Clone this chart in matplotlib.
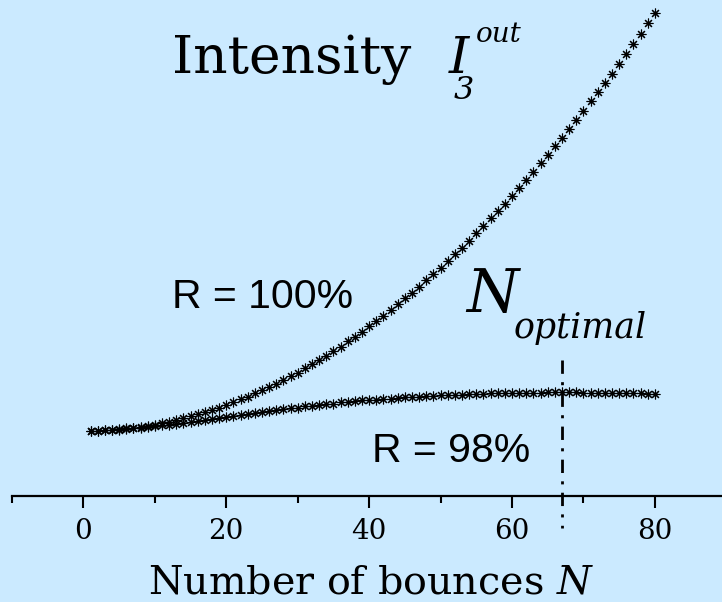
import numpy as np
import matplotlib.pyplot as plt

# Number of bounces and normalised output intensity (I(1) = 1)
bounces = np.arange(1, 81)

intensity_r100 = [
    1.00, 1.00, 1.01, 1.02, 1.03, 1.04, 1.05, 1.06, 1.08, 1.10,
    1.12, 1.14, 1.17, 1.20, 1.23, 1.26, 1.29, 1.33, 1.36, 1.40,
    1.44, 1.49, 1.53, 1.58, 1.63, 1.68, 1.73, 1.79, 1.85, 1.90,
    1.97, 2.03, 2.09, 2.16, 2.23, 2.30, 2.38, 2.45, 2.53, 2.61,
    2.69, 2.77, 2.86, 2.95, 3.04, 3.13, 3.22, 3.32, 3.41, 3.51,
    3.61, 3.72, 3.82, 3.93, 4.04, 4.15, 4.27, 4.38, 4.50, 4.62,
    4.74, 4.86, 4.99, 5.12, 5.25, 5.38, 5.51, 5.65, 5.78, 5.92,
    6.07, 6.21, 6.36, 6.50, 6.65, 6.80, 6.96, 7.11, 7.27, 7.43,
]

intensity_r98 = [
    1.00, 1.00, 1.01, 1.01, 1.02, 1.03, 1.04, 1.05, 1.06, 1.07,
    1.09, 1.10, 1.11, 1.13, 1.14, 1.16, 1.17, 1.19, 1.20, 1.22,
    1.23, 1.25, 1.26, 1.28, 1.29, 1.31, 1.32, 1.34, 1.35, 1.36,
    1.38, 1.39, 1.40, 1.41, 1.42, 1.44, 1.45, 1.46, 1.47, 1.48,
    1.48, 1.49, 1.50, 1.51, 1.52, 1.52, 1.53, 1.54, 1.54, 1.55,
    1.55, 1.56, 1.56, 1.57, 1.57, 1.57, 1.58, 1.58, 1.58, 1.58,
    1.58, 1.59, 1.59, 1.59, 1.60, 1.60, 1.60, 1.60, 1.60, 1.59,
    1.59, 1.59, 1.59, 1.59, 1.58, 1.58, 1.58, 1.58, 1.57, 1.57,
]

n_optimal = 67
major_ticks = [0, 20, 40, 60, 80]
minor_ticks = [-10, 10, 30, 50, 70]

BG = "#cbeaff"
W, H = 722, 602

plt.rcParams["font.family"] = "DejaVu Serif"
plt.rcParams["mathtext.fontset"] = "dejavuserif"

fig = plt.figure(figsize=(W / 100, H / 100), dpi=100)
fig.patch.set_facecolor(BG)

ax = fig.add_axes([12 / W, 106 / H, 710 / W, 496 / H])
ax.set_facecolor(BG)
ax.set_xlim(-10, 89.4)
ax.set_ylim(0, 496 / 65)

star = (8, 2, 0)
ax.plot(bounces, intensity_r100, linestyle="none", marker=star,
        markersize=7, markeredgewidth=0.8, color="black")
ax.plot(bounces, intensity_r98, linestyle="none", marker=star,
        markersize=7, markeredgewidth=0.8, color="black")

# Optimal number of bounces
ax.plot([n_optimal, n_optimal], [2.09, -0.49], color="black", lw=2.0,
        linestyle=(0, (4.8, 3.0, 1.1, 3.0)), clip_on=False)

for side in ("left", "right", "top"):
    ax.spines[side].set_visible(False)
ax.spines["bottom"].set_linewidth(1.6)
ax.set_yticks([])
ax.set_xticks(major_ticks)
ax.set_xticks(minor_ticks, minor=True)
ax.tick_params(axis="x", which="major", direction="out", length=8.5,
               width=1.5, pad=7)
ax.tick_params(axis="x", which="minor", direction="out", length=5,
               width=1.5)
for lbl in ax.get_xticklabels():
    lbl.set_fontsize(20)


def fpos(x, y):
    return x / W, 1 - y / H


fig.text(*fpos(172, 73), "Intensity", fontsize=38.5, va="baseline")
fig.text(*fpos(449, 73), "I", fontsize=37, style="italic", va="baseline")
fig.text(*fpos(454, 99), "3", fontsize=23, style="italic", va="baseline")
fig.text(*fpos(476, 42), "out", fontsize=20, style="italic", va="baseline")

fig.text(*fpos(466, 312), "N", fontsize=43, style="italic", va="baseline")
fig.text(*fpos(514, 338), "optimal", fontsize=25, style="italic", va="baseline")

fig.text(*fpos(172, 308), "R = 100%", fontsize=29.5,
         family="Liberation Sans", va="baseline")
fig.text(*fpos(372, 462), "R = 98%", fontsize=29.5,
         family="Liberation Sans", va="baseline")

fig.text(*fpos(148, 593), "Number of bounces $N$", fontsize=28.5, va="baseline")

fig.savefig("out.png", dpi=100, facecolor=BG)
